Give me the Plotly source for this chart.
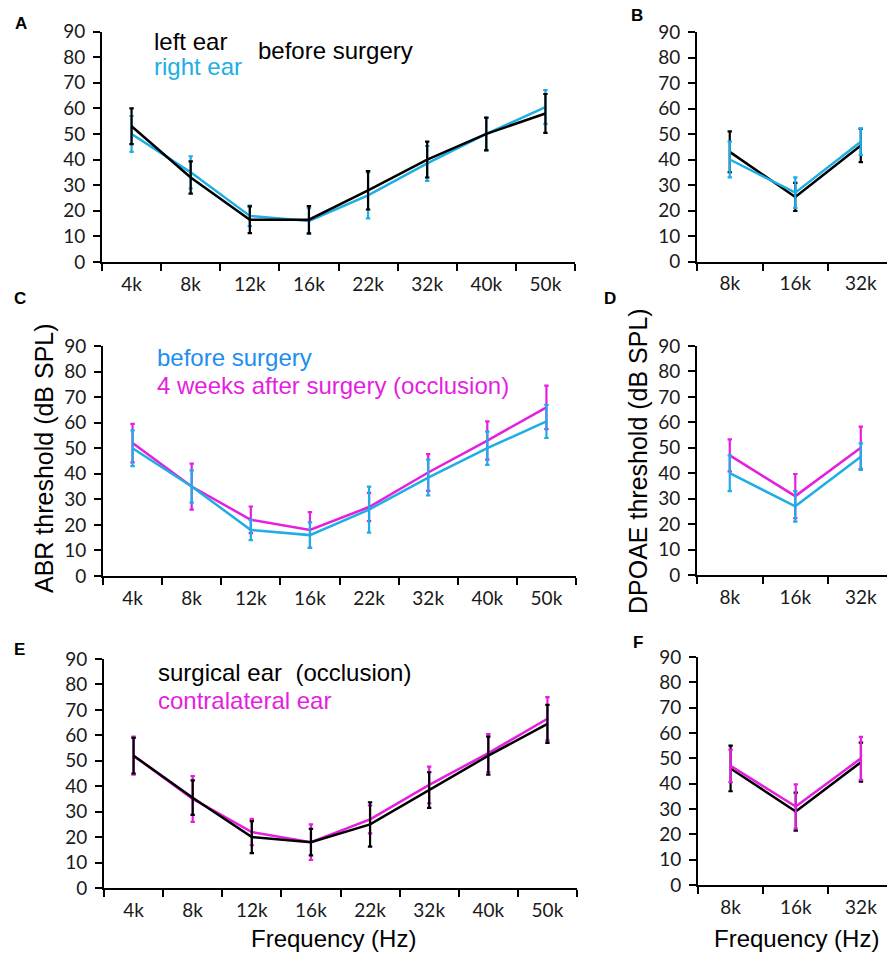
import plotly.graph_objects as go

W, H = 887, 954

freq8 = ["4k", "8k", "12k", "16k", "22k", "32k", "40k", "50k"]
freq3 = ["8k", "16k", "32k"]
yticks = [0, 10, 20, 30, 40, 50, 60, 70, 80, 90]

# Panel A (ABR, before surgery)
a_left = [53, 33, 16.5, 16.5, 28, 40, 50, 58]
a_left_err = [7, 6.3, 5.2, 5.3, 7.5, 7, 6.4, 7.6]
a_right = [50, 35, 18, 16, 26, 38.5, 50, 60.5]
a_right_err = [7, 6.3, 4, 5, 9, 6.8, 6.3, 6.6]
# Panel B (DPOAE, before surgery)
b_left = [43, 25.3, 45.5]
b_left_err = [8, 5.5, 6.5]
b_right = [40, 27, 47]
b_right_err = [7, 6, 5.2]
# Panel C (ABR, before vs 4 weeks after)
c_before = [50, 35, 18, 16, 26, 38.5, 50, 60.5]
c_before_err = [7, 6.3, 4, 5, 9, 7, 6.5, 6.5]
c_after = [52, 35, 22, 18, 27, 40.5, 53, 66]
c_after_err = [7.5, 9, 5.2, 7, 5.5, 7.2, 7.5, 8.5]
# Panel D (DPOAE, before vs after)
d_before = [40, 27, 46.5]
d_before_err = [7, 6, 5.2]
d_after = [47, 31, 50]
d_after_err = [6.3, 8.7, 8.3]
# Panel E (ABR, surgical vs contralateral)
e_surg = [52, 35.5, 20, 18, 25, 38.5, 52, 64.5]
e_surg_err = [7, 6.8, 6.3, 5.2, 8.7, 7, 7.5, 7.5]
e_contra = [52, 35, 22, 18, 27, 40.5, 53, 66.5]
e_contra_err = [7.5, 9, 5.2, 7, 5.5, 7.2, 7.5, 8.5]
# Panel F (DPOAE, surgical vs contralateral)
f_surg = [46, 29, 48.5]
f_surg_err = [9, 7.5, 7.7]
f_contra = [47, 31, 50]
f_contra_err = [6.4, 8.7, 8.5]

BLACK = "#000000"
CYAN = "#1DAEE6"
BLUE_TXT = "#1E8EF0"
MAG = "#E61EE0"

TICKFONT = dict(family="Lato", size=19, color="#1a1a1a")
TXTFONT = "Liberation Sans"

fig = go.Figure()

def px_x(v):
    return v / W

def px_y(v):
    return 1 - v / H

# panel geometry in pixels: x0, x1, ytop(90), ybottom(0), categories, xrange
panels = [
    (102, 575, 31.5, 262, freq8, [-0.5, 7.5]),
    (697, 887, 32, 261.5, freq3, [-0.5, 2.4]),
    (103, 576, 346, 576, freq8, [-0.5, 7.5]),
    (697, 887, 346, 575, freq3, [-0.5, 2.4]),
    (104, 577, 659, 888, freq8, [-0.5, 7.5]),
    (698, 887, 657, 885, freq3, [-0.5, 2.4]),
]

series = [
    # panel index, values, errors, color  (drawing order matters)
    (0, a_right, a_right_err, CYAN),
    (0, a_left, a_left_err, BLACK),
    (1, b_left, b_left_err, BLACK),
    (1, b_right, b_right_err, CYAN),
    (2, c_after, c_after_err, MAG),
    (2, c_before, c_before_err, CYAN),
    (3, d_after, d_after_err, MAG),
    (3, d_before, d_before_err, CYAN),
    (4, e_contra, e_contra_err, MAG),
    (4, e_surg, e_surg_err, BLACK),
    (5, f_surg, f_surg_err, BLACK),
    (5, f_contra, f_contra_err, MAG),
]

for pi, vals, errs, col in series:
    cats = panels[pi][4]
    sfx = "" if pi == 0 else str(pi + 1)
    fig.add_trace(go.Scatter(
        x=cats, y=vals, mode="lines",
        line=dict(color=col, width=2.5),
        error_y=dict(type="data", array=errs, visible=True, color=col,
                     thickness=2.2, width=2.2),
        xaxis="x" + sfx, yaxis="y" + sfx, showlegend=False,
        hoverinfo="x+y",
    ))

layout = dict(
    width=W, height=H, margin=dict(l=0, r=0, t=0, b=0, autoexpand=False),
    plot_bgcolor="white", paper_bgcolor="white", showlegend=False,
)

for i, (x0, x1, yt, yb, cats, xr) in enumerate(panels):
    sfx = "" if i == 0 else str(i + 1)
    layout["xaxis" + sfx] = dict(
        domain=[px_x(x0), px_x(x1)], anchor="y" + sfx,
        type="category", categoryorder="array", categoryarray=cats,
        range=xr, tickson="boundaries", ticks="outside", ticklen=7,
        tickwidth=2, tickcolor="black", showline=True, linecolor="black",
        linewidth=2, showgrid=False, zeroline=False, tickfont=TICKFONT,
        ticklabelstandoff=4, fixedrange=True, automargin=False,
    )
    layout["yaxis" + sfx] = dict(
        domain=[px_y(yb), px_y(yt)], anchor="x" + sfx,
        range=[0, 90], tickvals=yticks, ticks="outside", ticklen=7,
        tickwidth=2, tickcolor="black", showline=True, linecolor="black",
        linewidth=2, showgrid=False, zeroline=False, tickfont=TICKFONT,
        ticklabelstandoff=4, fixedrange=True, automargin=False,
    )

fig.update_layout(**layout)

def text(x, y, s, color="black", size=24, xanchor="left", angle=0, bold=False):
    fig.add_annotation(
        x=px_x(x), y=px_y(y), xref="paper", yref="paper",
        text=("<b>%s</b>" % s) if bold else s,
        showarrow=False, xanchor=xanchor, yanchor="middle", textangle=angle,
        font=dict(family=TXTFONT, size=size, color=color),
    )

# legends inside panels
text(152, 42, "left ear", BLACK)
text(152, 67, "right ear", CYAN)
text(256, 50, "before surgery", BLACK)
text(155, 357, "before surgery", BLUE_TXT)
text(155, 385, "4 weeks after surgery&#160;(occlusion)", MAG)
text(156, 672, "surgical ear&#160;&#160;(occlusion)", BLACK)
text(156, 700, "contralateral ear", MAG)

# axis titles
text(44, 458, "ABR threshold (dB SPL)", BLACK, size=25, xanchor="center", angle=-90)
text(638, 461, "DPOAE threshold (dB SPL)", BLACK, size=25, xanchor="center", angle=-90)
text(333, 938, "Frequency (Hz)", BLACK, size=24, xanchor="center")
text(712, 938, "Frequency (Hz)", BLACK, size=24, xanchor="left")

# panel letters
for lab, x, y in [("A", 21, 23), ("B", 637, 16), ("C", 20, 298),
                  ("D", 610, 298), ("E", 19, 649), ("F", 638, 642)]:
    text(x, y, lab, BLACK, size=17, xanchor="center", bold=True)

fig.write_html("out.html", config={"displayModeBar": False},
               post_script="document.body.style.margin='0px';")
